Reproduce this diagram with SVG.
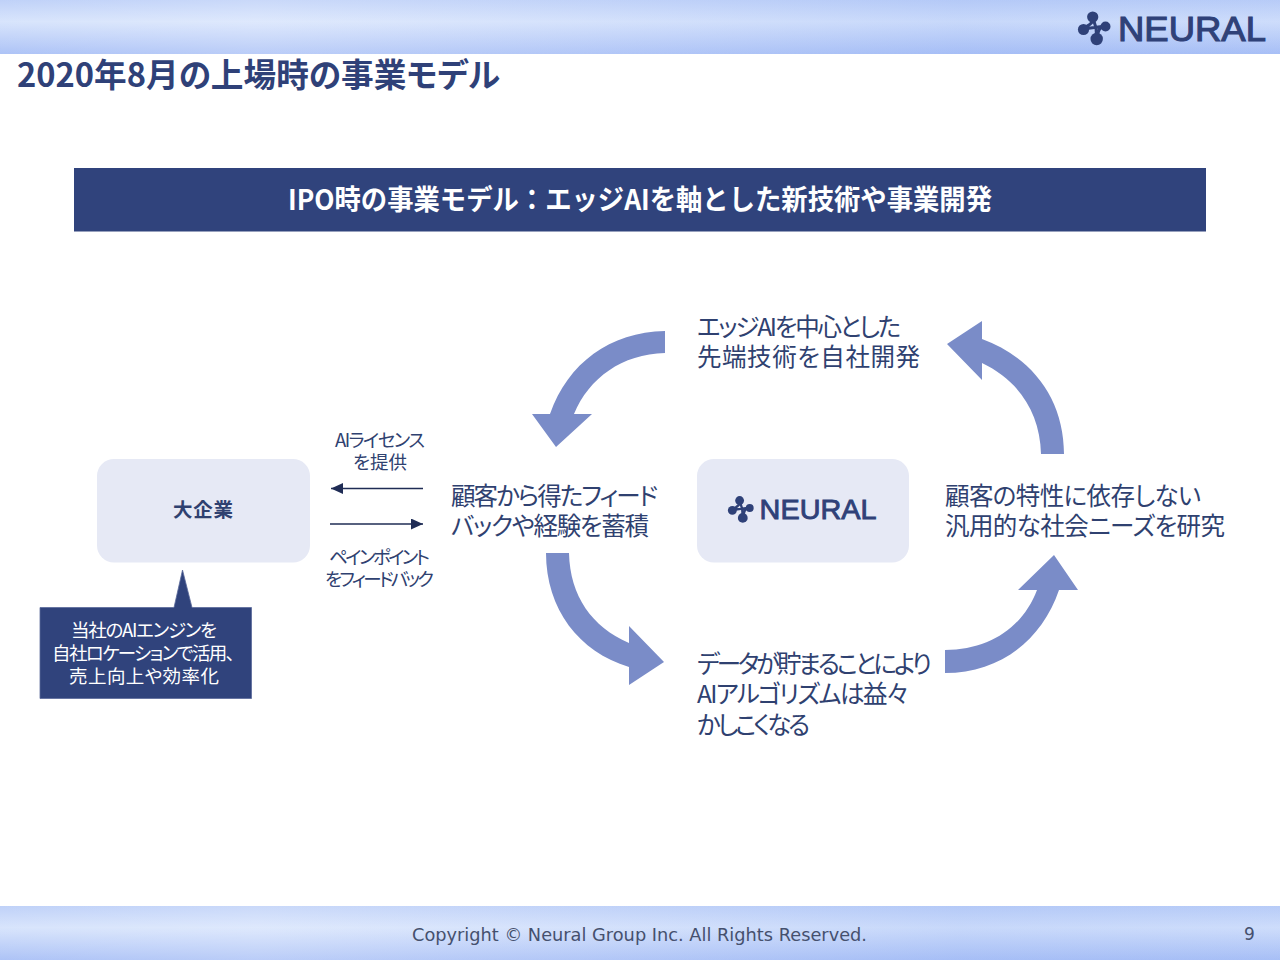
<svg xmlns="http://www.w3.org/2000/svg" width="1280" height="960" viewBox="0 0 1280 960">
<style>
text{font-family:"Noto Sans CJK JP","Noto Sans",sans-serif;fill:#2f4170;font-feature-settings:"palt"}
.main{font-size:24.5px}
.small{font-size:18.5px}
.call{font-size:18.5px;fill:#fff}
.box{fill:#e6e9f5}
.curve{fill:#7a8cc8}
.wire{stroke:#1f2c55;stroke-width:1.5;fill:none}
.logo-c{fill:#2f4178}
.logo-l{stroke:#2f4178;stroke-width:3;fill:none}
.logo-t{font-family:"Liberation Sans",sans-serif;font-size:35px;fill:#2f4178;stroke:#2f4178;stroke-width:1.1}
.foot{font-family:"DejaVu Sans",sans-serif;fill:#45506e}
</style>
<defs>
<linearGradient id="bandV" x1="0" y1="0" x2="0" y2="1">
<stop offset="0" stop-color="#bccff8"/><stop offset=".4" stop-color="#d6e3fc"/><stop offset="1" stop-color="#a9c0f6"/>
</linearGradient>
<linearGradient id="bandH" x1="0" y1="0" x2="1" y2="0">
<stop offset="0" stop-color="#fff" stop-opacity=".05"/><stop offset=".2" stop-color="#fff" stop-opacity=".2"/><stop offset=".75" stop-color="#9db8f5" stop-opacity=".25"/><stop offset="1" stop-color="#9db8f5" stop-opacity=".15"/>
</linearGradient>
<marker id="tri" markerUnits="userSpaceOnUse" markerWidth="12" markerHeight="11" refX="12" refY="5.5" orient="auto">
<path d="M0 0L12 5.5L0 11Z" fill="#1f2c55"/>
</marker>
<g id="logoMark">
<path class="logo-l" d="M1092.7 17C1094 24 1088 25 1083 29M1105.7 26C1099 26 1098 32 1096.7 39M1092.7 17L1096 28L1096.7 39M1083 29L1105.7 26"/>
<circle class="logo-c" cx="1092.7" cy="17" r="5.6"/>
<circle class="logo-c" cx="1083.5" cy="29.5" r="5.6"/>
<circle class="logo-c" cx="1105.5" cy="26.5" r="5"/>
<circle class="logo-c" cx="1096.7" cy="39" r="6.2"/>
</g>
</defs>
<g id="header">
<rect width="1280" height="54" fill="url(#bandV)"/>
<rect width="1280" height="54" fill="url(#bandH)"/>
</g>
<g id="footer">
<rect y="906" width="1280" height="54" fill="url(#bandV)"/>
<rect y="906" width="1280" height="54" fill="url(#bandH)"/>
<text class="foot" x="412" y="941" font-size="18.500" textLength="455" lengthAdjust="spacingAndGlyphs">Copyright © Neural Group Inc. All Rights Reserved.</text>
<text class="foot" x="1244" y="940" font-size="17">9</text>
</g>
<g id="logo-top">
<use href="#logoMark"/>
<text class="logo-t" x="1118" y="41" textLength="148" lengthAdjust="spacingAndGlyphs">NEURAL</text>
</g>
<text id="title" x="17" y="87" font-size="33" font-weight="700" textLength="483" lengthAdjust="spacingAndGlyphs" style="fill:#2f4178">2020年8月の上場時の事業モデル</text>
<g id="banner">
<rect x="74" y="168" width="1132" height="63.500" fill="#30437c"/>
<text x="288" y="210" font-size="28" font-weight="700" textLength="704" lengthAdjust="spacingAndGlyphs" style="fill:#fff;font-feature-settings:normal">IPO時の事業モデル：エッジAIを軸とした新技術や事業開発</text>
</g>
<g id="node-enterprise">
<rect class="box" x="97" y="459" width="213" height="103.500" rx="17"/>
<text x="173" y="517" font-size="19.500" font-weight="700" textLength="60">大企業</text>
</g>
<g id="node-neural">
<rect class="box" x="697" y="459" width="212" height="103.500" rx="17"/>
<g transform="translate(728 510) scale(.79) translate(-1078 -29)">
<use href="#logoMark"/>
<text class="logo-t" x="1118" y="41" textLength="148" lengthAdjust="spacingAndGlyphs">NEURAL</text>
</g>
</g>
<g id="node-callout">
<path d="M40 607.500H174L182.500 570L192 607.500H251.500V698.500H40Z" fill="#30437c" stroke="#5a6a9a" stroke-width=".8"/>
<text class="call" x="71" y="637" textLength="146">当社のAIエンジンを</text>
<text class="call" x="52" y="660" textLength="183">自社ロケーションで活用、</text>
<text class="call" x="69" y="683" textLength="150">売上向上や効率化</text>
</g>
<g id="connectors">
<path class="wire" d="M423 488.500H331" marker-end="url(#tri)"/>
<path class="wire" d="M330 524H423" marker-end="url(#tri)"/>
<path class="curve" d="M665 331V353C622 354 589 378 574 414H592L556 447L532 414H550C568 363 610 332 665 331Z"/>
<path class="curve" d="M1064 454H1041C1040 412 1018 380 982 363V380L947 344L982 321V339C1032 357 1064 399 1064 454Z"/>
<path class="curve" d="M546 553H569C570 596 592 627 629 643V626L664 662L629 685V667C579 652 546 609 546 553Z"/>
<path class="curve" d="M945 673V650C990 650 1023 627 1037 590H1018L1054 555L1078 590H1059C1042 640 1000 673 945 673Z"/>
</g>
<g id="labels">
<text class="small" x="335" y="447" textLength="90">AIライセンス</text>
<text class="small" x="353" y="469" textLength="54">を提供</text>
<text class="small" x="329" y="564" textLength="101">ペインポイント</text>
<text class="small" x="325" y="586" textLength="109">をフィードバック</text>
<text class="main" x="697" y="335.500" textLength="204">エッジAIを中心とした</text>
<text class="main" x="697" y="366" textLength="223">先端技術を自社開発</text>
<text class="main" x="451" y="505" textLength="207">顧客から得たフィード</text>
<text class="main" x="451" y="535" textLength="198">バックや経験を蓄積</text>
<text class="main" x="945" y="505" textLength="256">顧客の特性に依存しない</text>
<text class="main" x="945" y="535" textLength="280">汎用的な社会ニーズを研究</text>
<text class="main" x="697" y="673" textLength="235">データが貯まることにより</text>
<text class="main" x="697" y="703" textLength="212">AIアルゴリズムは益々</text>
<text class="main" x="697" y="734" textLength="113">かしこくなる</text>
</g>
</svg>
